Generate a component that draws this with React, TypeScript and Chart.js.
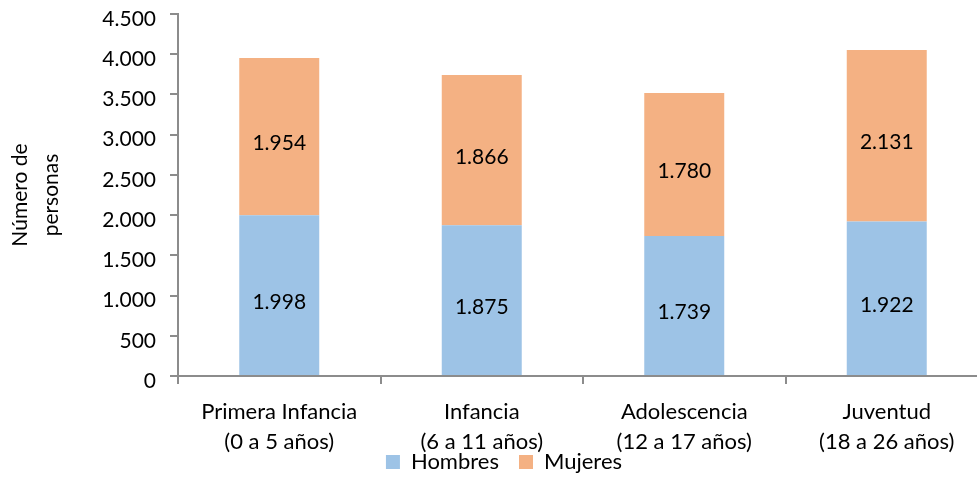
import React, { useEffect, useRef } from "react";
import { Chart, registerables } from "chart.js";

Chart.register(...registerables);

const categories: string[][] = [
  ["Primera Infancia", "(0 a 5 años)"],
  ["Infancia", "(6 a 11 años)"],
  ["Adolescencia", "(12 a 17 años)"],
  ["Juventud", "(18 a 26 años)"],
];
const hombres: number[] = [1998, 1875, 1739, 1922];
const mujeres: number[] = [1954, 1866, 1780, 2131];
const yTitle: string[] = ["Número de", "personas"];

const FONT = "Lato, 'Open Sans', sans-serif";
const fmt = (v: number) => v.toLocaleString("de-DE");

const labelPlugin = {
  id: "segmentLabels",
  afterDatasetsDraw(chart: any) {
    const ctx = chart.ctx;
    ctx.save();
    ctx.font = `21px ${FONT}`;
    ctx.fillStyle = "#000";
    ctx.textAlign = "center";
    ctx.textBaseline = "middle";
    chart.data.datasets.forEach((ds: any, i: number) => {
      const meta = chart.getDatasetMeta(i);
      meta.data.forEach((el: any, j: number) => {
        const p = el.getProps(["x", "y", "base"], true);
        ctx.fillText(fmt(ds.data[j]), p.x, (p.y + p.base) / 2 + 7);
      });
    });
    ctx.restore();
  },
};

// Lets the two-line category labels overlap the legend band, as in the source.
const layoutTweak = {
  id: "layoutTweak",
  afterLayout(chart: any) {
    const x = chart.scales.x;
    if (x) x.bottom = chart.height;
    const lg = chart.legend;
    if (lg) {
      lg.top += 4;
      lg.bottom += 4;
      lg.left += 10;
      lg.right += 10;
    }
  },
};

export default function App() {
  const ref = useRef<HTMLCanvasElement>(null);
  useEffect(() => {
    if (!ref.current) return;
    const chart = new Chart(ref.current, {
      type: "bar",
      data: {
        labels: categories,
        datasets: [
          { label: "Hombres", data: hombres, backgroundColor: "#9DC3E6", barPercentage: 0.79, categoryPercentage: 0.5 },
          { label: "Mujeres", data: mujeres, backgroundColor: "#F4B183", barPercentage: 0.79, categoryPercentage: 0.5 },
        ],
      },
      options: {
        responsive: false,
        animation: false,
        layout: { padding: { top: 14, right: 2, left: 0, bottom: 0 } },
        plugins: {
          tooltip: { enabled: false },
          legend: {
            position: "bottom",
            labels: {
              boxWidth: 14,
              boxHeight: 14,
              padding: 20,
              color: "#000",
              font: { family: FONT, size: 22 },
            },
          },
        },
        scales: {
          x: {
            stacked: true,
            afterFit: (s: any) => {
              s.height = 51;
            },
            border: { display: true, color: "#8c8c8c", width: 2 },
            grid: { display: true, drawOnChartArea: false, drawTicks: true, tickLength: 8, color: "#8c8c8c", lineWidth: 2 },
            ticks: { color: "#000", padding: 13, font: { family: FONT, size: 22, lineHeight: 1.36 } },
          },
          y: {
            stacked: true,
            min: 0,
            max: 4500,
            afterFit: (s: any) => {
              s.width = 178;
              s.paddingTop = 0;
              s.paddingBottom = 0;
            },
            border: { display: true, color: "#8c8c8c", width: 2 },
            grid: { display: true, drawOnChartArea: false, drawTicks: true, tickLength: 8, color: "#8c8c8c", lineWidth: 2 },
            ticks: {
              stepSize: 500,
              color: "#000",
              padding: 14,
              labelOffset: 5,
              font: { family: FONT, size: 21 },
              callback: (v: any) => fmt(Number(v)),
            },
            title: {
              display: true,
              text: yTitle,
              color: "#000",
              padding: { top: 5, bottom: 0 },
              font: { family: FONT, size: 21, lineHeight: 1.48 },
            },
          },
        },
      },
      plugins: [labelPlugin, layoutTweak],
    });
    return () => chart.destroy();
  }, []);
  return (
    <div style={{ position: "fixed", left: 0, top: 0, width: 977, height: 479, overflow: "hidden", background: "#fff" }}>
      <canvas ref={ref} width={990} height={479} style={{ width: 990, height: 479, display: "block" }} />
    </div>
  );
}
